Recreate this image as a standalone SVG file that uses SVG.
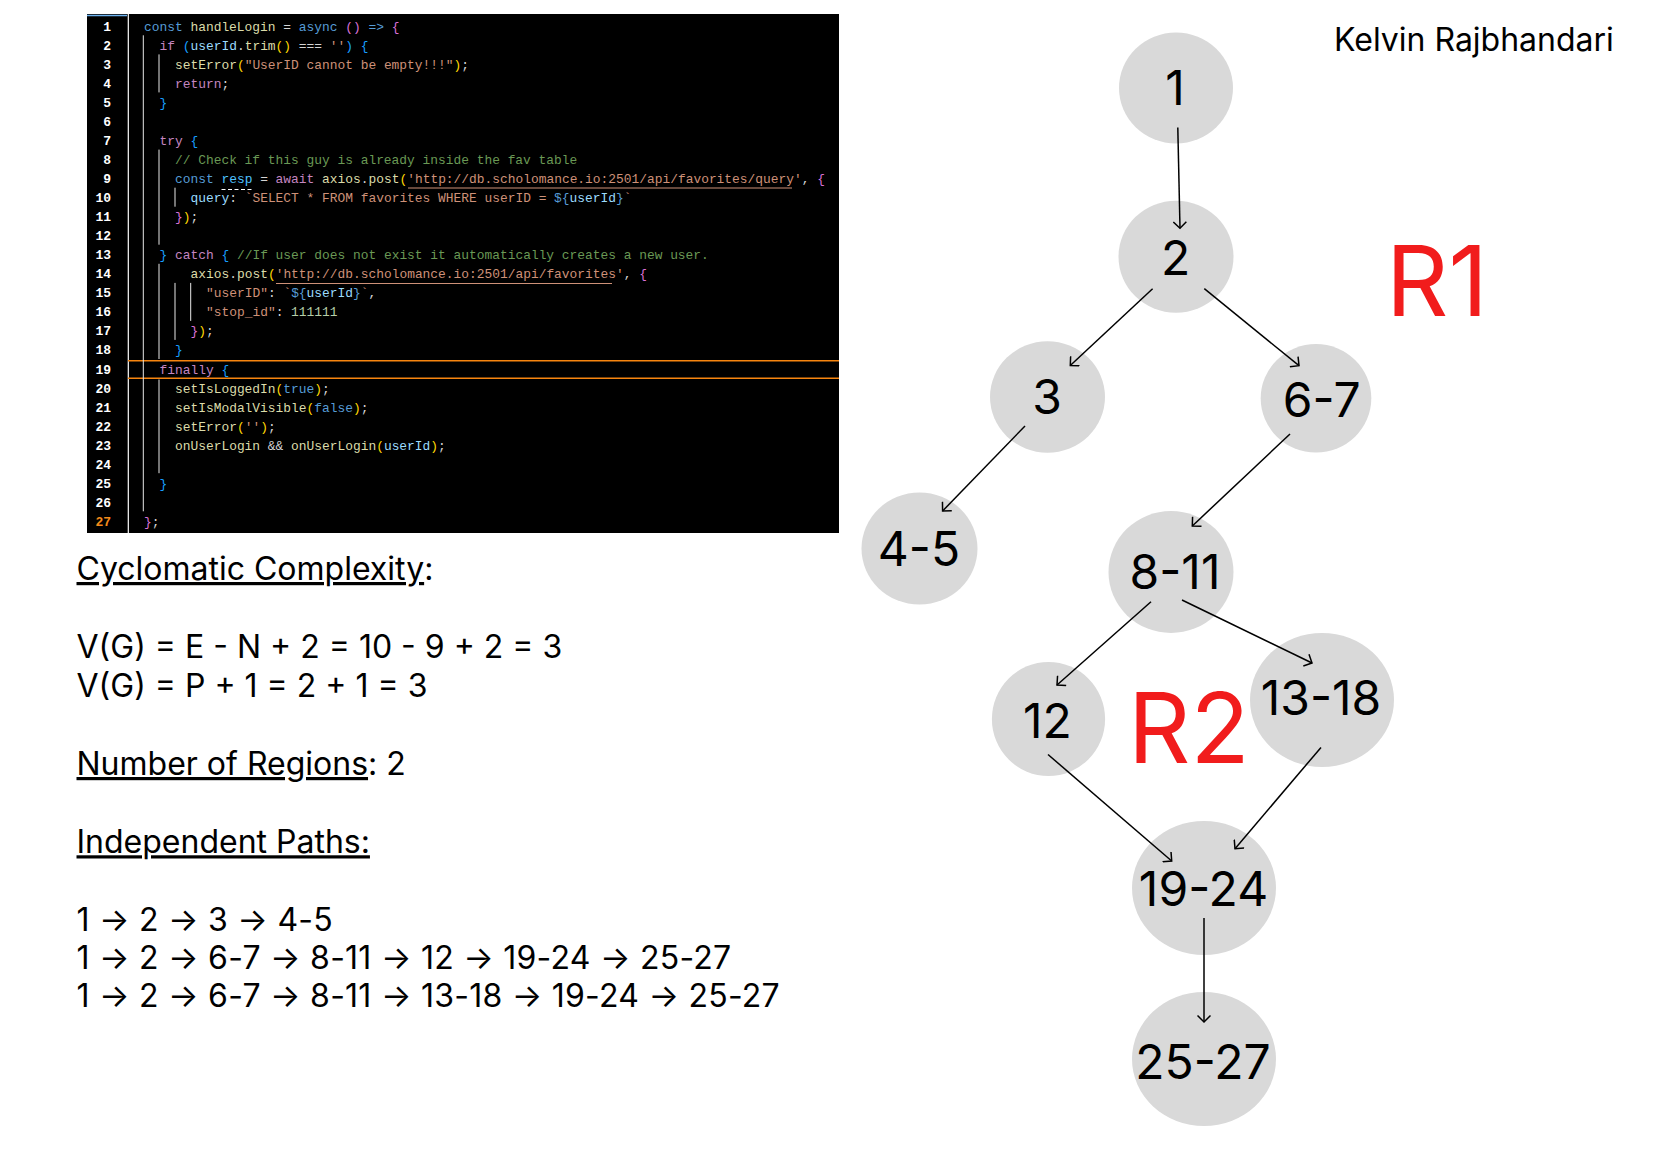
<svg xmlns="http://www.w3.org/2000/svg" width="1657" height="1157" viewBox="0 0 1657 1157">
<defs>
<style>
.code{font-family:"Liberation Mono","DejaVu Sans Mono",monospace;font-size:12.9px;fill:#D4D4D4;white-space:pre}
.ln{font-family:"Liberation Mono","DejaVu Sans Mono",monospace;font-size:13px;font-weight:bold;fill:#FFFFFF;text-anchor:end}
.k{fill:#569CD6}.c{fill:#C586C0}.f{fill:#DCDCAA}.v{fill:#9CDCFE}.cv{fill:#4FC1FF}.s{fill:#CE9178}.cm{fill:#6A9955}.n{fill:#B5CEA8}.p{fill:#D4D4D4}
.b1{fill:#FFD700}.b2{fill:#DA70D6}.b3{fill:#179FFF}
.guide{stroke:#E8E8E8;stroke-width:1}
.node{fill:#D9D9D9}
.lbl{font-family:Inter,"Noto Sans",sans-serif;font-size:48px;fill:#000;text-anchor:middle}
.txt{font-family:Inter,"Noto Sans",sans-serif;font-size:32px;fill:#000}
.path{letter-spacing:0.25px}
.reg{font-family:Inter,"Noto Sans",sans-serif;font-size:97px;fill:#F11C1C}
.edge{stroke:#000;stroke-width:1.5;fill:none;marker-end:url(#arr)}
</style>
<marker id="arr" markerUnits="userSpaceOnUse" viewBox="0 0 14 14" refX="8" refY="7" markerWidth="14" markerHeight="14" orient="auto">
<path d="M1.5,0.5 L8,7 L1.5,13.5" fill="none" stroke="#000" stroke-width="1.5"/>
</marker>
</defs>
<rect width="1657" height="1157" fill="#FFFFFF"/>

<g id="code-panel">
<rect x="87" y="14" width="752" height="519" fill="#000000"/>
<line x1="87" y1="15.5" x2="127" y2="15.5" stroke="#6FB3F0" stroke-width="1.5"/>
<line x1="128.3" y1="14" x2="128.3" y2="533" stroke="#FFFFFF" stroke-width="1.2"/>
<line x1="128" y1="360.7" x2="839" y2="360.7" stroke="#F7850F" stroke-width="1.5"/>
<line x1="128" y1="378.3" x2="839" y2="378.3" stroke="#F7850F" stroke-width="1.5"/>
<g class="guides">
<line class="guide" x1="143.3" y1="35.3" x2="143.3" y2="511.3"/>
<line class="guide" x1="159" y1="54.4" x2="159" y2="92.4"/>
<line class="guide" x1="159" y1="149.6" x2="159" y2="244.7"/>
<line class="guide" x1="159" y1="263.8" x2="159" y2="359"/>
<line class="guide" x1="159" y1="379.5" x2="159" y2="473.2"/>
<line class="guide" x1="175" y1="187.7" x2="175" y2="206.7"/>
<line class="guide" x1="175" y1="282.9" x2="175" y2="339.9"/>
<line class="guide" x1="190.7" y1="282.9" x2="190.7" y2="320.9"/>
</g>
<g class="linenos">
<text class="ln" x="111" y="30.8">1</text>
<text class="ln" x="111" y="49.84">2</text>
<text class="ln" x="111" y="68.88">3</text>
<text class="ln" x="111" y="87.92">4</text>
<text class="ln" x="111" y="106.96">5</text>
<text class="ln" x="111" y="126">6</text>
<text class="ln" x="111" y="145.04">7</text>
<text class="ln" x="111" y="164.08">8</text>
<text class="ln" x="111" y="183.12">9</text>
<text class="ln" x="111" y="202.16">10</text>
<text class="ln" x="111" y="221.2">11</text>
<text class="ln" x="111" y="240.24">12</text>
<text class="ln" x="111" y="259.28">13</text>
<text class="ln" x="111" y="278.32">14</text>
<text class="ln" x="111" y="297.36">15</text>
<text class="ln" x="111" y="316.4">16</text>
<text class="ln" x="111" y="335.44">17</text>
<text class="ln" x="111" y="354.48">18</text>
<text class="ln" x="111" y="373.52">19</text>
<text class="ln" x="111" y="392.56">20</text>
<text class="ln" x="111" y="411.6">21</text>
<text class="ln" x="111" y="430.64">22</text>
<text class="ln" x="111" y="449.68">23</text>
<text class="ln" x="111" y="468.72">24</text>
<text class="ln" x="111" y="487.76">25</text>
<text class="ln" x="111" y="506.8">26</text>
<text class="ln" x="111" y="525.84" style="fill:#F28A1A">27</text>
</g>
<g class="source" xml:space="preserve">
<text class="code" x="144" y="30.8"><tspan class="k">const</tspan> <tspan class="f">handleLogin</tspan> = <tspan class="k">async</tspan> <tspan class="b2">()</tspan> <tspan class="k">=&gt;</tspan> <tspan class="b2">{</tspan></text>
<text class="code" x="159.5" y="49.84"><tspan class="c">if</tspan> <tspan class="b3">(</tspan><tspan class="v">userId</tspan>.<tspan class="f">trim</tspan><tspan class="b1">()</tspan> === <tspan class="s">''</tspan><tspan class="b3">)</tspan> <tspan class="b3">{</tspan></text>
<text class="code" x="175" y="68.88"><tspan class="f">setError</tspan><tspan class="b1">(</tspan><tspan class="s">"UserID cannot be empty!!!"</tspan><tspan class="b1">)</tspan>;</text>
<text class="code" x="175" y="87.92"><tspan class="c">return</tspan>;</text>
<text class="code" x="159.5" y="106.96"><tspan class="b3">}</tspan></text>
<text class="code" x="159.5" y="145.04"><tspan class="c">try</tspan> <tspan class="b3">{</tspan></text>
<text class="code" x="175" y="164.08"><tspan class="cm">// Check if this guy is already inside the fav table</tspan></text>
<text class="code" x="175" y="183.12"><tspan class="k">const</tspan> <tspan class="cv">resp</tspan> = <tspan class="c">await</tspan> <tspan class="f">axios</tspan>.<tspan class="f">post</tspan><tspan class="b1">(</tspan><tspan class="s">'http://db.scholomance.io:2501/api/favorites/query'</tspan>, <tspan class="b2">{</tspan></text>
<text class="code" x="190.5" y="202.16"><tspan class="v">query</tspan>: <tspan class="s">`SELECT * FROM favorites WHERE userID = </tspan><tspan class="k">${</tspan><tspan class="v">userId</tspan><tspan class="k">}</tspan><tspan class="s">`</tspan></text>
<text class="code" x="175" y="221.2"><tspan class="b2">}</tspan><tspan class="b1">)</tspan>;</text>
<text class="code" x="159.5" y="259.28"><tspan class="b3">}</tspan> <tspan class="c">catch</tspan> <tspan class="b3">{</tspan> <tspan class="cm">//If user does not exist it automatically creates a new user.</tspan></text>
<text class="code" x="190.5" y="278.32"><tspan class="f">axios</tspan>.<tspan class="f">post</tspan><tspan class="b1">(</tspan><tspan class="s">'http://db.scholomance.io:2501/api/favorites'</tspan>, <tspan class="b2">{</tspan></text>
<text class="code" x="206" y="297.36"><tspan class="s">"userID"</tspan>: <tspan class="s">`</tspan><tspan class="k">${</tspan><tspan class="v">userId</tspan><tspan class="k">}</tspan><tspan class="s">`</tspan>,</text>
<text class="code" x="206" y="316.4"><tspan class="s">"stop_id"</tspan>: <tspan class="n">111111</tspan></text>
<text class="code" x="190.5" y="335.44"><tspan class="b2">}</tspan><tspan class="b1">)</tspan>;</text>
<text class="code" x="175" y="354.48"><tspan class="b3">}</tspan></text>
<text class="code" x="159.5" y="373.52"><tspan class="c">finally</tspan> <tspan class="b3">{</tspan></text>
<text class="code" x="175" y="392.56"><tspan class="f">setIsLoggedIn</tspan><tspan class="b1">(</tspan><tspan class="k">true</tspan><tspan class="b1">)</tspan>;</text>
<text class="code" x="175" y="411.6"><tspan class="f">setIsModalVisible</tspan><tspan class="b1">(</tspan><tspan class="k">false</tspan><tspan class="b1">)</tspan>;</text>
<text class="code" x="175" y="430.64"><tspan class="f">setError</tspan><tspan class="b1">(</tspan><tspan class="s">''</tspan><tspan class="b1">)</tspan>;</text>
<text class="code" x="175" y="449.68"><tspan class="f">onUserLogin</tspan> &amp;&amp; <tspan class="f">onUserLogin</tspan><tspan class="b1">(</tspan><tspan class="v">userId</tspan><tspan class="b1">)</tspan>;</text>
<text class="code" x="159.5" y="487.76"><tspan class="b3">}</tspan></text>
<text class="code" x="144" y="525.84"><tspan class="b2">}</tspan>;</text>
</g>
<line x1="408" y1="188" x2="792" y2="188" stroke="#CE9178" stroke-width="1"/>
<line x1="276" y1="283.5" x2="612" y2="283.5" stroke="#CE9178" stroke-width="1"/>
<line x1="221.5" y1="189.5" x2="252.5" y2="189.5" stroke="#FFFFFF" stroke-width="1" stroke-dasharray="4,2.5"/>
</g>

<g id="notes">
<text class="txt" x="76.5" y="580"><tspan text-decoration="underline">Cyclomatic Complexity</tspan>:</text>
<text class="txt" x="76.5" y="658.3">V(G) = E - N + 2 = 10 - 9 + 2 = 3</text>
<text class="txt" x="76.5" y="696.7">V(G) = P + 1 = 2 + 1 = 3</text>
<text class="txt" x="76.5" y="775"><tspan text-decoration="underline">Number of Regions</tspan>: 2</text>
<text class="txt" x="76.5" y="853.3"><tspan text-decoration="underline">Independent Paths:</tspan></text>
<text class="txt path" x="76.5" y="930.7">1 → 2 → 3 → 4-5</text>
<text class="txt path" x="76.5" y="969">1 → 2 → 6-7 → 8-11 → 12 → 19-24 → 25-27</text>
<text class="txt path" x="76.5" y="1007.3">1 → 2 → 6-7 → 8-11 → 13-18 → 19-24 → 25-27</text>
</g>

<text id="author" class="txt" x="1334" y="50.5">Kelvin Rajbhandari</text>
<text id="region-r1" class="reg" x="1386" y="316">R1</text>
<text id="region-r2" class="reg" x="1128" y="762.7">R2</text>

<g id="node-1"><ellipse class="node" cx="1176" cy="88" rx="57" ry="55.5"/><text class="lbl" x="1175" y="105">1</text></g>
<g id="node-2"><ellipse class="node" cx="1176" cy="256.7" rx="57.5" ry="56"/><text class="lbl" x="1175.6" y="275">2</text></g>
<g id="node-3"><ellipse class="node" cx="1047.5" cy="397" rx="57.5" ry="55.7"/><text class="lbl" x="1047" y="414">3</text></g>
<g id="node-6-7"><ellipse class="node" cx="1316" cy="398.3" rx="55.3" ry="54.3"/><text class="lbl" x="1321.7" y="416.7">6-7</text></g>
<g id="node-4-5"><ellipse class="node" cx="919.5" cy="548.6" rx="58" ry="56"/><text class="lbl" x="919" y="566">4-5</text></g>
<g id="node-8-11"><ellipse class="node" cx="1171" cy="572" rx="62.5" ry="61"/><text class="lbl" x="1175" y="589">8-11</text></g>
<g id="node-12"><ellipse class="node" cx="1048.5" cy="719" rx="56.6" ry="57"/><text class="lbl" x="1047.5" y="737.5">12</text></g>
<g id="node-13-18"><ellipse class="node" cx="1322" cy="700" rx="72" ry="67"/><text class="lbl" x="1321" y="715">13-18</text></g>
<g id="node-19-24"><ellipse class="node" cx="1204" cy="888" rx="72" ry="67"/><text class="lbl" x="1203.5" y="905.5">19-24</text></g>
<g id="node-25-27"><ellipse class="node" cx="1204" cy="1059" rx="72" ry="67"/><text class="lbl" x="1203" y="1079">25-27</text></g>

<g id="connectors">
<path class="edge" d="M1177.8,127.4 L1180,228.3"/>
<path class="edge" d="M1152.6,288.7 L1070.3,365.5"/>
<path class="edge" d="M1204.3,288.7 L1299,365.7"/>
<path class="edge" d="M1025,426 L942.6,511"/>
<path class="edge" d="M1290,434 L1192.3,526"/>
<path class="edge" d="M1151,601.8 L1057,685"/>
<path class="edge" d="M1182,600 L1312,663"/>
<path class="edge" d="M1048,754.5 L1171.7,861"/>
<path class="edge" d="M1321,747.4 L1235,848.7"/>
<path class="edge" d="M1204,918 L1204,1022"/>
</g>
</svg>
